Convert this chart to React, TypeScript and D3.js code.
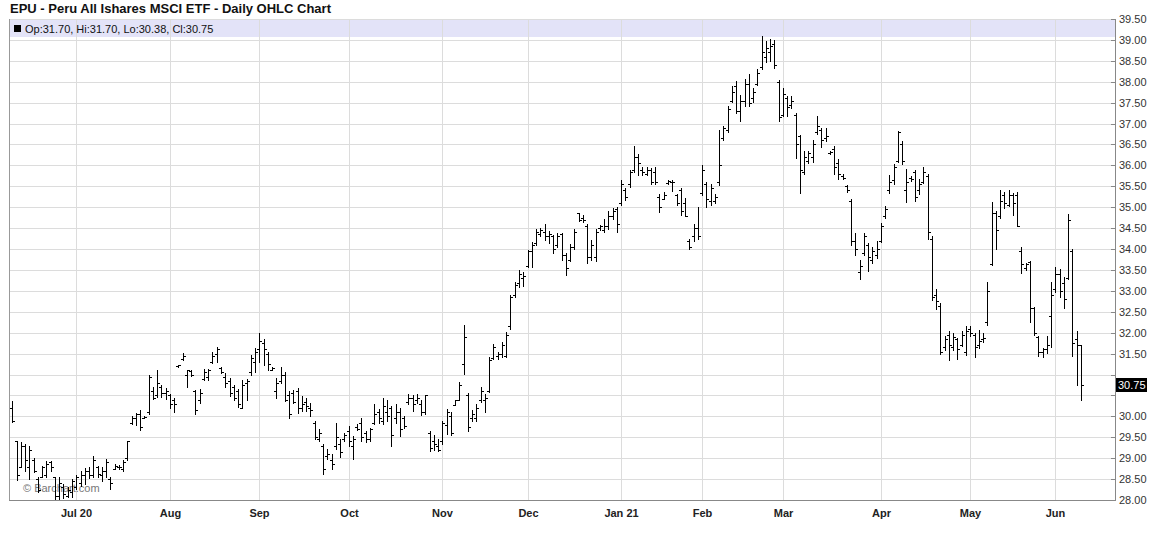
import React from "react";
import * as d3 from "d3";

const W = 1156;
const H = 542;

// trading days shown, by month
const monthDays: [string, number[]][] = [
  ["2020-06", [10, 11, 12, 15, 16, 17, 18, 19, 22, 23, 24, 25, 26, 29, 30]],
  ["2020-07", [1, 2, 6, 7, 8, 9, 10, 13, 14, 15, 16, 17, 20, 21, 22, 23, 24, 27, 28, 29, 30, 31]],
  ["2020-08", [3, 4, 5, 6, 7, 10, 11, 12, 13, 14, 17, 18, 19, 20, 21, 24, 25, 26, 27, 28, 31]],
  ["2020-09", [1, 2, 3, 4, 8, 9, 10, 11, 14, 15, 16, 17, 18, 21, 22, 23, 24, 25, 28, 29, 30]],
  ["2020-10", [1, 2, 5, 6, 7, 8, 9, 12, 13, 14, 15, 16, 19, 20, 21, 22, 23, 26, 27, 28, 29, 30]],
  ["2020-11", [2, 3, 4, 5, 6, 9, 10, 11, 12, 13, 16, 17, 18, 19, 20, 23, 24, 25, 27, 30]],
  ["2020-12", [1, 2, 3, 4, 7, 8, 9, 10, 11, 14, 15, 16, 17, 18, 21, 22, 23, 24, 28, 29, 30, 31]],
  ["2021-01", [4, 5, 6, 7, 8, 11, 12, 13, 14, 15, 19, 20, 21, 22, 25, 26, 27, 28, 29]],
  ["2021-02", [1, 2, 3, 4, 5, 8, 9, 10, 11, 12, 16, 17, 18, 19, 22, 23, 24, 25, 26]],
  ["2021-03", [1, 2, 3, 4, 5, 8, 9, 10, 11, 12, 15, 16, 17, 18, 19, 22, 23, 24, 25, 26, 29, 30, 31]],
  ["2021-04", [1, 5, 6, 7, 8, 9, 12, 13, 14, 15, 16, 19, 20, 21, 22, 23, 26, 27, 28, 29, 30]],
  ["2021-05", [3, 4, 5, 6, 7, 10, 11, 12, 13, 14, 17, 18, 19, 20, 21, 24, 25, 26, 27, 28]],
  ["2021-06", [1, 2, 3, 4, 7, 8, 9]],
];
const dates: string[] = monthDays.flatMap(([m, ds]) =>
  ds.map((d) => `${m}-${String(d).padStart(2, "0")}`)
);

const highs = [
  30.36, 29.42, 29.38, 29.34, 29.28, 29.0, 28.56, 28.82, 28.94, 28.94,
  28.56, 28.54, 28.38, 28.3, 28.5, 28.6, 28.7, 28.76, 28.78, 29.06,
  28.82, 28.78, 28.98, 28.56, 28.86, 28.84, 28.96, 29.42, 30.02, 30.08,
  30.14, 30.0, 30.99, 30.7, 31.12, 30.74, 30.68, 30.54, 30.44, 31.23,
  31.51, 31.11, 31.11, 30.62, 30.65, 31.13, 31.13, 31.55, 31.65, 31.19,
  31.03, 30.92, 30.76, 30.66, 30.87, 30.89, 31.47, 31.64, 32.0, 31.84,
  31.55, 31.17, 30.91, 31.17, 31.07, 30.6, 30.63, 30.68, 30.48, 30.44,
  30.31, 29.9, 29.69, 29.33, 29.23, 29.1, 29.83, 29.45, 29.6, 29.77,
  29.52, 29.81, 29.97, 29.65, 29.73, 30.29, 30.17, 30.44, 30.4, 30.25,
  30.29, 30.21, 30.0, 30.54, 30.52, 30.54, 30.4, 30.52, 29.65, 29.55,
  29.45, 29.9, 30.18, 30.1, 30.4, 30.82, 32.18, 30.56, 30.15, 30.3,
  30.69, 30.54, 31.42, 31.72, 31.54, 31.78, 32.02, 32.9, 33.22, 33.51,
  33.46, 33.98, 34.18, 34.47, 34.5, 34.6, 34.42, 34.34, 34.39, 34.38,
  33.9, 34.13, 34.47, 34.87, 34.81, 34.61, 34.21, 34.49, 34.57, 34.73,
  34.91, 34.97, 35.0, 35.66, 35.45, 35.9, 36.46, 36.27, 35.97, 35.95,
  35.93, 35.95, 35.31, 35.37, 35.66, 35.66, 35.31, 35.45, 35.21, 34.25,
  34.61, 35.0, 36.0, 35.6, 35.55, 35.31, 36.85, 36.95, 37.41, 37.91,
  38.02, 37.69, 38.06, 38.18, 37.84, 38.31, 39.1, 38.98, 39.02, 39.0,
  38.04, 37.86, 37.65, 37.65, 37.25, 36.73, 36.35, 36.35, 36.61, 37.19,
  36.9, 36.9, 36.35, 36.47, 36.16, 35.79, 35.53, 35.19, 34.39, 33.74,
  34.38, 34.15, 34.06, 34.19, 34.63, 35.02, 35.77, 36.03, 36.83, 36.59,
  35.91, 35.75, 35.9, 35.67, 35.95, 35.79, 34.31, 33.05, 32.71, 31.91,
  32.03, 31.99, 31.87, 32.03, 32.15, 32.15, 31.99, 32.07, 32.0, 33.21,
  35.12, 34.92, 35.42, 35.37, 35.4, 35.34, 35.36, 34.04, 33.67, 33.72,
  32.61, 31.93, 31.63, 31.93, 33.21, 33.56, 33.52, 33.32, 34.84, 34.0,
  32.05, 31.7,
];

const lows = [
  29.86, 28.48, 28.78, 28.7, 28.5, 28.66, 28.18, 28.54, 28.56, 28.7,
  28.02, 28.02, 28.04, 28.06, 28.06, 28.26, 28.34, 28.38, 28.52, 28.56,
  28.56, 28.46, 28.54, 28.26, 28.74, 28.74, 28.7, 28.96, 29.81, 29.79,
  29.68, 29.95, 30.06, 30.42, 30.46, 30.46, 30.42, 30.2, 30.1, 31.19,
  31.35, 30.7, 30.97, 30.06, 30.32, 30.87, 30.87, 31.27, 31.31, 31.03,
  30.7, 30.49, 30.38, 30.22, 30.19, 30.38, 31.0, 31.07, 31.31, 31.23,
  31.11, 31.11, 30.44, 30.79, 30.36, 29.97, 30.31, 30.07, 30.13, 30.13,
  30.02, 29.45, 29.41, 28.62, 28.98, 28.75, 29.21, 29.02, 29.41, 29.28,
  28.98, 29.67, 29.41, 29.39, 29.41, 29.81, 29.85, 29.81, 29.89, 29.29,
  29.85, 29.53, 29.73, 30.29, 30.13, 30.33, 30.03, 30.05, 29.17, 29.2,
  29.17, 29.35, 29.58, 29.55, 30.26, 30.38, 31.02, 29.66, 29.89, 29.89,
  30.34, 30.1, 30.58, 31.36, 31.36, 31.42, 31.42, 32.1, 32.86, 33.1,
  33.11, 33.58, 33.56, 34.1, 34.3, 34.22, 34.14, 33.9, 34.06, 33.75,
  33.38, 33.72, 34.01, 34.68, 34.65, 33.67, 33.74, 33.72, 34.45, 34.41,
  34.49, 34.73, 34.41, 35.05, 35.17, 35.49, 35.85, 35.77, 35.77, 35.77,
  35.55, 35.55, 34.89, 35.19, 35.55, 35.39, 35.05, 34.81, 34.79, 33.99,
  34.2, 34.25, 35.3, 35.0, 35.05, 35.1, 35.53, 36.61, 36.79, 37.51,
  37.25, 37.06, 37.41, 37.43, 37.51, 37.92, 38.31, 38.47, 38.5, 38.34,
  37.06, 37.19, 37.17, 37.38, 36.17, 35.33, 35.79, 36.05, 36.09, 36.75,
  36.45, 36.59, 36.27, 35.79, 35.68, 35.68, 35.37, 34.09, 33.85, 33.29,
  33.85, 33.47, 33.66, 33.79, 34.17, 34.75, 35.34, 35.55, 36.07, 36.03,
  35.13, 35.63, 35.15, 35.31, 35.59, 34.23, 32.79, 32.57, 31.5, 31.59,
  31.35, 31.59, 31.37, 31.67, 31.47, 31.93, 31.41, 31.63, 31.77, 32.19,
  33.62, 33.99, 34.74, 34.97, 35.02, 34.81, 34.54, 33.43, 33.51, 32.26,
  31.95, 31.45, 31.41, 31.52, 31.65, 32.97, 32.85, 32.58, 33.29, 31.44,
  30.75, 30.38,
];

const opens = [
  30.2, 29.4, 28.8, 29.3, 28.8, 28.95, 28.5, 28.55, 28.6, 28.9,
  28.55, 28.1, 28.3, 28.1, 28.2, 28.3, 28.4, 28.6, 28.7, 28.6,
  28.8, 28.6, 28.7, 28.5, 28.75, 28.8, 28.75, 29.0, 29.85, 29.95,
  30.05, 29.96, 30.1, 30.6, 30.5, 30.7, 30.55, 30.5, 30.4, 31.2,
  31.38, 31.0, 31.08, 30.6, 30.4, 30.9, 30.95, 31.3, 31.5, 31.15,
  30.95, 30.85, 30.7, 30.6, 30.2, 30.8, 31.05, 31.3, 31.6, 31.75,
  31.5, 31.12, 30.6, 30.85, 31.0, 30.5, 30.55, 30.6, 30.2, 30.35,
  30.2, 29.85, 29.45, 29.3, 29.05, 28.95, 29.3, 29.35, 29.45, 29.65,
  29.3, 29.75, 29.85, 29.6, 29.45, 29.85, 30.1, 29.9, 30.1, 30.2,
  29.95, 30.1, 29.95, 30.35, 30.45, 30.4, 30.3, 30.1, 29.6, 29.4,
  29.3, 29.4, 29.8, 30.0, 30.28, 30.4, 31.25, 30.5, 29.95, 29.95,
  30.4, 30.4, 30.6, 31.4, 31.45, 31.5, 31.45, 32.15, 32.9, 33.2,
  33.3, 33.6, 33.95, 34.15, 34.35, 34.4, 34.3, 34.3, 34.1, 34.35,
  33.85, 33.75, 34.05, 34.85, 34.75, 34.55, 33.8, 33.8, 34.5, 34.45,
  34.55, 34.8, 34.95, 35.1, 35.4, 35.55, 35.9, 36.2, 35.9, 35.8,
  35.9, 35.85, 35.25, 35.2, 35.58, 35.6, 35.3, 35.4, 35.1, 34.2,
  34.3, 34.5, 35.35, 35.55, 35.15, 35.15, 35.6, 36.65, 36.85, 37.55,
  37.9, 37.3, 37.55, 37.95, 37.6, 37.95, 38.35, 38.6, 38.7, 38.9,
  38.0, 37.2, 37.6, 37.45, 37.2, 36.7, 35.85, 36.1, 36.2, 36.8,
  36.85, 36.65, 36.3, 36.4, 36.05, 35.75, 35.5, 35.15, 34.2, 33.45,
  33.9, 34.1, 33.75, 33.85, 34.2, 34.8, 35.4, 35.65, 36.1, 36.5,
  35.4, 35.7, 35.85, 35.4, 35.6, 35.75, 34.25, 32.9, 32.65, 31.65,
  31.95, 31.65, 31.85, 31.7, 31.55, 32.1, 31.95, 31.7, 31.85, 32.25,
  33.65, 34.85, 34.8, 35.3, 35.05, 35.3, 35.3, 33.95, 33.55, 33.7,
  32.6, 31.9, 31.55, 31.6, 32.4, 33.05, 33.4, 33.2, 33.3, 33.95,
  31.85, 31.7,
];

const closes = [
  29.9, 28.6, 29.3, 28.95, 29.2, 28.7, 28.25, 28.78, 28.85, 28.8,
  28.1, 28.4, 28.15, 28.25, 28.45, 28.55, 28.6, 28.7, 28.6, 28.95,
  28.62, 28.7, 28.9, 28.4, 28.82, 28.78, 28.9, 29.4, 29.95, 30.05,
  29.75, 29.98, 30.95, 30.45, 30.8, 30.55, 30.6, 30.3, 30.3, 31.22,
  31.45, 31.1, 31.0, 30.15, 30.55, 31.05, 31.1, 31.45, 31.6, 31.05,
  30.8, 30.55, 30.45, 30.3, 30.75, 30.85, 31.4, 31.55, 31.8, 31.6,
  31.25, 31.15, 30.8, 31.0, 30.4, 30.05, 30.35, 30.2, 30.3, 30.25,
  30.15, 29.5, 29.6, 28.75, 29.1, 28.85, 29.5, 29.15, 29.55, 29.4,
  29.45, 29.7, 29.5, 29.45, 29.7, 30.05, 29.95, 30.25, 30.0, 29.55,
  30.1, 29.7, 29.78, 30.45, 30.3, 30.45, 30.1, 30.5, 29.25, 29.35,
  29.2, 29.85, 30.1, 29.6, 30.38, 30.75, 31.9, 29.75, 30.05, 30.2,
  30.6, 30.45, 31.35, 31.65, 31.5, 31.7, 31.95, 32.85, 33.15, 33.4,
  33.35, 33.95, 34.1, 34.4, 34.45, 34.3, 34.35, 34.0, 34.3, 33.85,
  33.55, 34.05, 34.4, 34.7, 34.7, 33.8, 34.1, 34.4, 34.55, 34.55,
  34.8, 34.9, 34.6, 35.55, 35.25, 35.85, 36.2, 36.05, 35.85, 35.9,
  35.6, 35.6, 35.0, 35.3, 35.62, 35.6, 35.1, 34.9, 34.8, 34.05,
  34.5, 34.3, 35.9, 35.2, 35.45, 35.25, 36.0, 36.9, 37.35, 37.75,
  37.3, 37.55, 37.95, 37.5, 37.75, 38.2, 38.7, 38.8, 38.85, 38.4,
  37.15, 37.7, 37.4, 37.55, 36.5, 35.9, 36.2, 36.3, 36.5, 36.95,
  36.6, 36.7, 36.32, 35.95, 35.8, 35.7, 35.4, 34.2, 34.0, 33.6,
  34.3, 33.8, 33.95, 34.0, 34.55, 34.95, 35.6, 35.95, 36.8, 36.1,
  35.6, 35.68, 35.25, 35.55, 35.85, 34.4, 32.85, 32.75, 31.55, 31.85,
  31.7, 31.9, 31.6, 31.95, 32.05, 32.0, 31.65, 31.8, 31.88, 33.0,
  34.85, 34.45, 35.15, 35.1, 35.3, 35.1, 34.55, 33.65, 33.65, 32.6,
  32.0, 31.55, 31.6, 31.7, 32.9, 33.4, 33.0, 32.8, 34.7, 31.75,
  31.7, 30.75,
];

const monthTicks = [
  { date: "2020-07-01", label: "Jul 20" },
  { date: "2020-08-03", label: "Aug" },
  { date: "2020-09-01", label: "Sep" },
  { date: "2020-10-01", label: "Oct" },
  { date: "2020-11-02", label: "Nov" },
  { date: "2020-12-01", label: "Dec" },
  { date: "2021-01-04", label: "Jan 21" },
  { date: "2021-02-01", label: "Feb" },
  { date: "2021-03-01", label: "Mar" },
  { date: "2021-04-01", label: "Apr" },
  { date: "2021-05-03", label: "May" },
  { date: "2021-06-01", label: "Jun" },
];

const priceTicks = [
  28, 28.5, 29, 29.5, 30, 30.5, 31, 31.5, 32, 32.5, 33, 33.5, 34, 34.5,
  35, 35.5, 36, 36.5, 37, 37.5, 38, 38.5, 39, 39.5,
];
const hiddenPriceLabels = [30.5, 31];

const title = "EPU - Peru All Ishares MSCI ETF - Daily OHLC Chart";

const PL = 9;
const PR = 1115;
const PT = 19;
const PB = 500;

const FONT = "'Liberation Sans', Arial, sans-serif";

export default function App() {
  const xi = d3.scaleLinear().domain([-0.8, 259]).range([PL, PR]);
  const y = d3.scaleLinear().domain([28, 39.5]).range([PB, PT]);
  const snap = (v: number) => Math.round(v) + 0.5;
  const xd = (d: string) => snap(xi(dates.indexOf(d)));

  const n = dates.length;
  const last = n - 1;
  const lastY = Math.round(y(closes[last]));
  const fmt = d3.format(".2f");

  return (
    <div style={{ position: "absolute", left: 0, top: 0, width: W, height: H, background: "#fff" }}>
      <svg width={W} height={H} style={{ display: "block" }} fontFamily={FONT}>
        <rect x={0} y={0} width={W} height={H} fill="#fff" />
        <text x={10} y={13} fontSize={13} fontWeight="bold" fill="#111">
          {title}
        </text>

        {/* legend band */}
        <rect x={PL} y={PT} width={PR - PL} height={18} fill="#e3e3f8" />

        {/* horizontal grid */}
        {priceTicks.map((p) => (
          <line key={"h" + p} x1={PL} x2={PR} y1={snap(y(p))} y2={snap(y(p))} stroke="#dcdcdc" strokeWidth={1} />
        ))}
        {/* vertical grid */}
        {monthTicks.map((t) => (
          <line key={"v" + t.date} x1={xd(t.date)} x2={xd(t.date)} y1={PT} y2={PB} stroke="#dcdcdc" strokeWidth={1} />
        ))}

        <rect x={14} y={25} width={7} height={7} fill="#000" />
        <text x={25} y={33} fontSize={11} fill="#111">
          {`Op:${fmt(opens[last])}, Hi:${fmt(highs[last])}, Lo:${fmt(lows[last])}, Cl:${fmt(closes[last])}`}
        </text>

        <text x={23} y={492} fontSize={11} fill="#777">
          © Barchart.com
        </text>

        {/* OHLC bars */}
        <g stroke="#000" strokeWidth={1} shapeRendering="crispEdges">
          {dates.map((d, i) => {
            const cx = snap(xi(i));
            const yo = snap(y(opens[i]));
            const yc = snap(y(closes[i]));
            return (
              <g key={d}>
                <line x1={cx} x2={cx} y1={Math.round(y(highs[i]))} y2={Math.round(y(lows[i])) + 1} />
                <line x1={cx - 2.5} x2={cx} y1={yo} y2={yo} />
                <line x1={cx} x2={cx + 2.5} y1={yc} y2={yc} />
              </g>
            );
          })}
        </g>

        {/* axes */}
        <line x1={snap(PL)} x2={snap(PL)} y1={PT} y2={PB} stroke="#999" />
        <line x1={PL} x2={PR + 1} y1={snap(PB)} y2={snap(PB)} stroke="#888" />
        <line x1={snap(PR)} x2={snap(PR)} y1={PT} y2={PB + 1} stroke="#888" />

        {priceTicks.map((p) => (
          <g key={"t" + p}>
            <line x1={PR - 4} x2={PR} y1={snap(y(p))} y2={snap(y(p))} stroke="#888" />
            {!hiddenPriceLabels.includes(p) && (
              <text x={PR + 4} y={y(p) + 4} fontSize={11} fill="#333">
                {fmt(p)}
              </text>
            )}
          </g>
        ))}

        {monthTicks.map((t) => (
          <text key={"l" + t.date} x={xd(t.date)} y={517} fontSize={11} fontWeight="bold" fill="#222" textAnchor="middle">
            {t.label}
          </text>
        ))}

        <rect x={PR + 1} y={lastY - 7} width={31} height={14} fill="#000" />
        <text x={PR + 3} y={lastY + 4} fontSize={11} fill="#fff">
          {fmt(closes[last])}
        </text>
      </svg>
    </div>
  );
}
